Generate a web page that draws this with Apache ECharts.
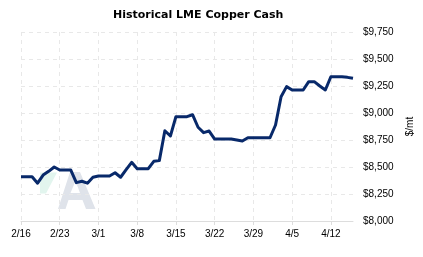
<!DOCTYPE html>
<html>
<head>
<meta charset="utf-8">
<script src="https://cdn.jsdelivr.net/npm/echarts@6/dist/echarts.min.js"></script>
<style>html,body{margin:0;padding:0;background:#fff}#c{width:423px;height:257px}</style>
</head>
<body>
<div id="c"></div>
<script>
var dates = ["2/16","2/17","2/18","2/19","2/20","2/21","2/22","2/23","2/24","2/25","2/26","2/27","2/28","2/29",
"3/1","3/2","3/3","3/4","3/5","3/6","3/7","3/8","3/9","3/10","3/11","3/12","3/13","3/14","3/15","3/16","3/17",
"3/18","3/19","3/20","3/21","3/22","3/23","3/24","3/25","3/26","3/27","3/28","3/29","3/30","3/31",
"4/1","4/2","4/3","4/4","4/5","4/6","4/7","4/8","4/9","4/10","4/11","4/12","4/13","4/14","4/15","4/16"];
var cashPrice = [8410,8410,8410,8350,8425,8460,8500,8472,8472,8472,8355,8368,8350,8405,
8417,8417,8417,8447,8405,8475,8543,8484,8484,8484,8553,8559,8836,8787,8966,8966,8966,
8984,8868,8818,8833,8759,8759,8759,8759,8750,8741,8771,8771,8771,8771,
8771,8889,9151,9244,9213,9213,9213,9290,9290,9250,9213,9336,9336,9336,9330,9321];
var yTicks = [8000,8250,8500,8750,9000,9250,9500,9750];

var chart = echarts.init(document.getElementById('c'), null, {renderer:'canvas'});
var fnt = 'Liberation Sans';
chart.setOption({
  animation:false,
  title:{text:'Historical LME Copper Cash', left:108, top:5,
    textStyle:{fontFamily:'DejaVu Sans', fontSize:11, fontWeight:'bold', color:'#000'}},
  grid:{left:21, right:68, top:32, bottom:36},
  graphic:[
    {type:'polygon', z:0, silent:true, shape:{points:[[40,172.5],[57,172.5],[46,193.5],[40,193.5]]}, style:{fill:'#e2f5ee'}},
    {type:'polygon', z:0, silent:true,
      shape:{points:[[58,209],[70,172],[80,172],[95.5,209],[86,209],[82.5,200],[68.5,200],[65.5,209]]},
      style:{fill:'#dfe3ea'}},
    {type:'polygon', z:1, silent:true,
      shape:{points:[[70.5,193],[80,193],[75.5,181]]}, style:{fill:'#ffffff'}}
  ],
  xAxis:{type:'category', data:dates, boundaryGap:false,
    axisLine:{lineStyle:{color:'#dddddd', width:1}},
    axisTick:{interval:6, length:4, lineStyle:{color:'#dddddd'}},
    axisLabel:{interval:6, color:'#000', fontFamily:fnt, fontSize:10, margin:8},
    splitLine:{show:true, interval:6, lineStyle:{color:'#e8e8e8', type:[4,4]}}},
  yAxis:{type:'value', position:'right', min:yTicks[0], max:yTicks[yTicks.length-1], interval:250,
    name:'$/mt', nameLocation:'middle', nameGap:52, nameRotate:90,
    nameTextStyle:{color:'#000', fontFamily:fnt, fontSize:10},
    axisLine:{show:false}, axisTick:{show:false},
    axisLabel:{color:'#000', fontFamily:fnt, fontSize:10, margin:10,
      formatter:function(v){return '$'+v.toLocaleString('en-US');}},
    splitLine:{show:true, lineStyle:{color:'#e8e8e8', type:[4,4]}}},
  series:[{type:'line', data:cashPrice, showSymbol:false, symbol:'none', z:3,
    lineStyle:{color:'#08296a', width:3, join:'round'}}]
});
</script>
</body>
</html>
